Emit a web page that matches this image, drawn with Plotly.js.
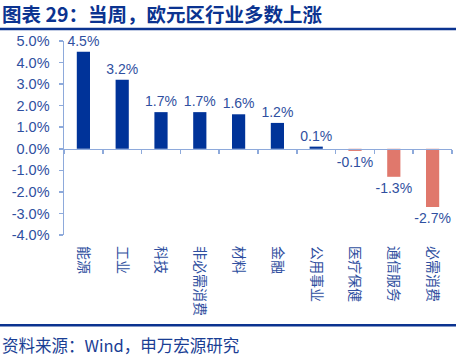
<!DOCTYPE html>
<html>
<head>
<meta charset="utf-8">
<script src="https://cdn.plot.ly/plotly-3.0.1.min.js"></script>
<style>html,body{margin:0;padding:0;background:#fff;}#chart{width:456px;height:361px;}</style>
</head>
<body>
<div id="chart"></div>
<script>
const categories = ['能源','工业','科技','非必需消费','材料','金融','公用事业','医疗保健','通信服务','必需消费'];
const values = [4.5, 3.2, 1.7, 1.7, 1.6, 1.2, 0.1, -0.1, -1.3, -2.7];
const yTickVals = [5,4,3,2,1,0,-1,-2,-3,-4];
const yTickText = ['5.0%','4.0%','3.0%','2.0%','1.0%','0.0%','-1.0%','-2.0%','-3.0%','-4.0%'];
const titleText = '图表 29：当周，欧元区行业多数上涨';
const sourceText = '资料来源：Wind，申万宏源研究';

const posColor = '#003399';
const negColor = '#E0786C';
const textBlue = '#2F4FA0';
const axisBlue = '#8EAADB';
const navy = '#0B3390';

const W = 456, H = 361;
const m = {l: 64, r: 4, t: 41, b: 125.5};
const pw = W - m.l - m.r, ph = H - m.t - m.b;

const trace = {
  type: 'bar',
  x: categories,
  y: values,
  marker: {color: values.map(v => v >= 0 ? posColor : negColor)},
  text: values.map(v => v.toFixed(1) + '%'),
  textposition: 'outside',
  constraintext: 'none',
  textfont: {family: 'Liberation Sans, Arial', size: 14, color: textBlue},
  cliponaxis: false,
  hoverinfo: 'none'
};

const layout = {
  width: W, height: H,
  margin: m,
  paper_bgcolor: '#fff', plot_bgcolor: '#fff',
  showlegend: false,
  bargap: 0.66,
  font: {family: 'Liberation Sans, Arial', color: textBlue},
  xaxis: {
    type: 'category',
    anchor: 'free',
    position: 4/9,
    showline: true, linecolor: axisBlue, linewidth: 1.5,
    ticks: 'outside', tickson: 'boundaries', ticklen: 4, tickcolor: axisBlue, tickwidth: 1.5,
    tickangle: 90,
    ticklabelstandoff: 93,
    tickfont: {family: 'Noto Sans CJK SC', size: 14, color: textBlue},
    showgrid: false, zeroline: false
  },
  yaxis: {
    range: [-4, 5],
    tickvals: yTickVals, ticktext: yTickText,
    showline: true, linecolor: axisBlue, linewidth: 1.5,
    ticks: 'outside', ticklen: 4, tickcolor: axisBlue, tickwidth: 1.5,
    tickfont: {family: 'Liberation Sans, Arial', size: 14.5, color: textBlue},
    ticklabelstandoff: 6,
    showgrid: false, zeroline: false
  },
  shapes: [
    {type: 'line', xref: 'paper', yref: 'paper', x0: -m.l/pw, x1: (W - m.l)/pw, y0: 1 + (m.t - 29)/ph, y1: 1 + (m.t - 29)/ph, line: {color: navy, width: 2.5}},
    {type: 'line', xref: 'paper', yref: 'paper', x0: -m.l/pw, x1: (W - m.l)/pw, y0: -(326 - m.t - ph)/ph, y1: -(326 - m.t - ph)/ph, line: {color: navy, width: 2.5}}
  ],
  annotations: [
    {text: '<b>' + titleText + '</b>', xref: 'paper', yref: 'paper', x: -m.l/pw, y: 1 + (m.t - 13)/ph, xanchor: 'left', yanchor: 'middle', showarrow: false,
     font: {family: 'Noto Sans CJK SC', size: 19.5, color: navy}},
    {text: sourceText, xref: 'paper', yref: 'paper', x: -m.l/pw, y: -(346 - m.t - ph)/ph, xanchor: 'left', yanchor: 'middle', showarrow: false,
     font: {family: 'Noto Sans CJK SC', size: 16.5, color: '#1A3E94'}}
  ]
};

Plotly.newPlot('chart', [trace], layout, {displayModeBar: false, staticPlot: true});
</script>
</body>
</html>
